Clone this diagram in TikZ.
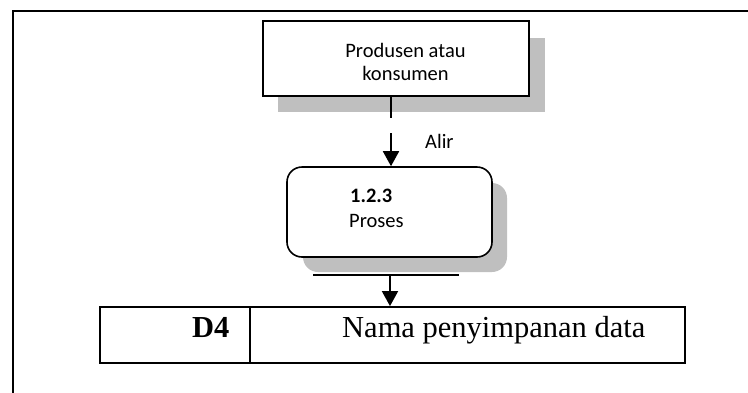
\documentclass[tikz,border=0pt]{standalone}
\usepackage{fontspec}
\setmainfont{Liberation Serif}
\newfontfamily\calibri{Carlito}
\usetikzlibrary{arrows.meta}
\definecolor{shadowgray}{HTML}{BFBFBF}
\begin{document}
\begin{tikzpicture}[x=1pt,y=-1pt,
  box/.style={draw, line width=1.6pt, fill=white, inner sep=0pt},
  shadowfill/.style={fill=shadowgray, draw=none},
  flow/.style={line width=1.8pt, -{Triangle[width=16pt,length=15pt]}},
  sans/.style={font=\calibri\fontsize{20.5}{24}\selectfont, inner sep=0pt},
  serif/.style={font=\fontsize{30.5}{36}\selectfont, inner sep=0pt, anchor=base west},
 ]
\useasboundingbox (0,0) rectangle (748,392);
\clip (0,0) rectangle (748,392);
% page frame
\draw[line width=1.5pt] (13,400) -- (13,11) -- (760,11);

% external entity with drop shadow
\fill[shadowfill] (278,38) rectangle (545,112);
\node[box, minimum width=266pt, minimum height=75pt] (entity) at (396,58.5) {};
\node[sans, anchor=base] (entityA) at (405.5,57) {Produsen atau};
\node[sans, anchor=base] (entityB) at (405.5,80) {konsumen};

% process with drop shadow
\fill[shadowfill, rounded corners=15pt] (303,183) rectangle (507,272);
\node[box, rounded corners=15pt, minimum width=205pt, minimum height=90pt] (process) at (389.5,212) {};
\node[sans, anchor=base west, font=\calibri\bfseries\fontsize{20.5}{24}\selectfont] (procnum) at (350,202) {1.2.3};
\node[sans, anchor=base west] (procname) at (349,227) {Proses};

% data store
\node[draw, line width=1.8pt, minimum width=585pt, minimum height=56pt, inner sep=0pt] (store) at (392.5,335) {};
\draw[line width=1.8pt] ([xshift=151pt]store.north west) -- ([xshift=151pt]store.south west);
\node[serif, font=\bfseries\fontsize{30.5}{36}\selectfont] (storeid) at (192,337) {D4};
\node[serif] (storename) at (342,337) {Nama penyimpanan data};

% data flows
\coordinate (entityout) at (391,118);
\draw[line width=1.8pt] (entity.south -| entityout) -- (entityout);
\coordinate (alirstart) at (391,133);
\draw[flow] (alirstart) -- (alirstart |- process.north);
\node[sans, anchor=base west] (alir) at (425,148) {Alir};

\coordinate (barL) at (313,275);
\coordinate (barR) at (459,275);
\draw[line width=1.8pt] (barL) -- (barR);
\coordinate (storein) at (390,275);
\draw[flow] (storein) -- (storein |- store.north);
\end{tikzpicture}
\end{document}
